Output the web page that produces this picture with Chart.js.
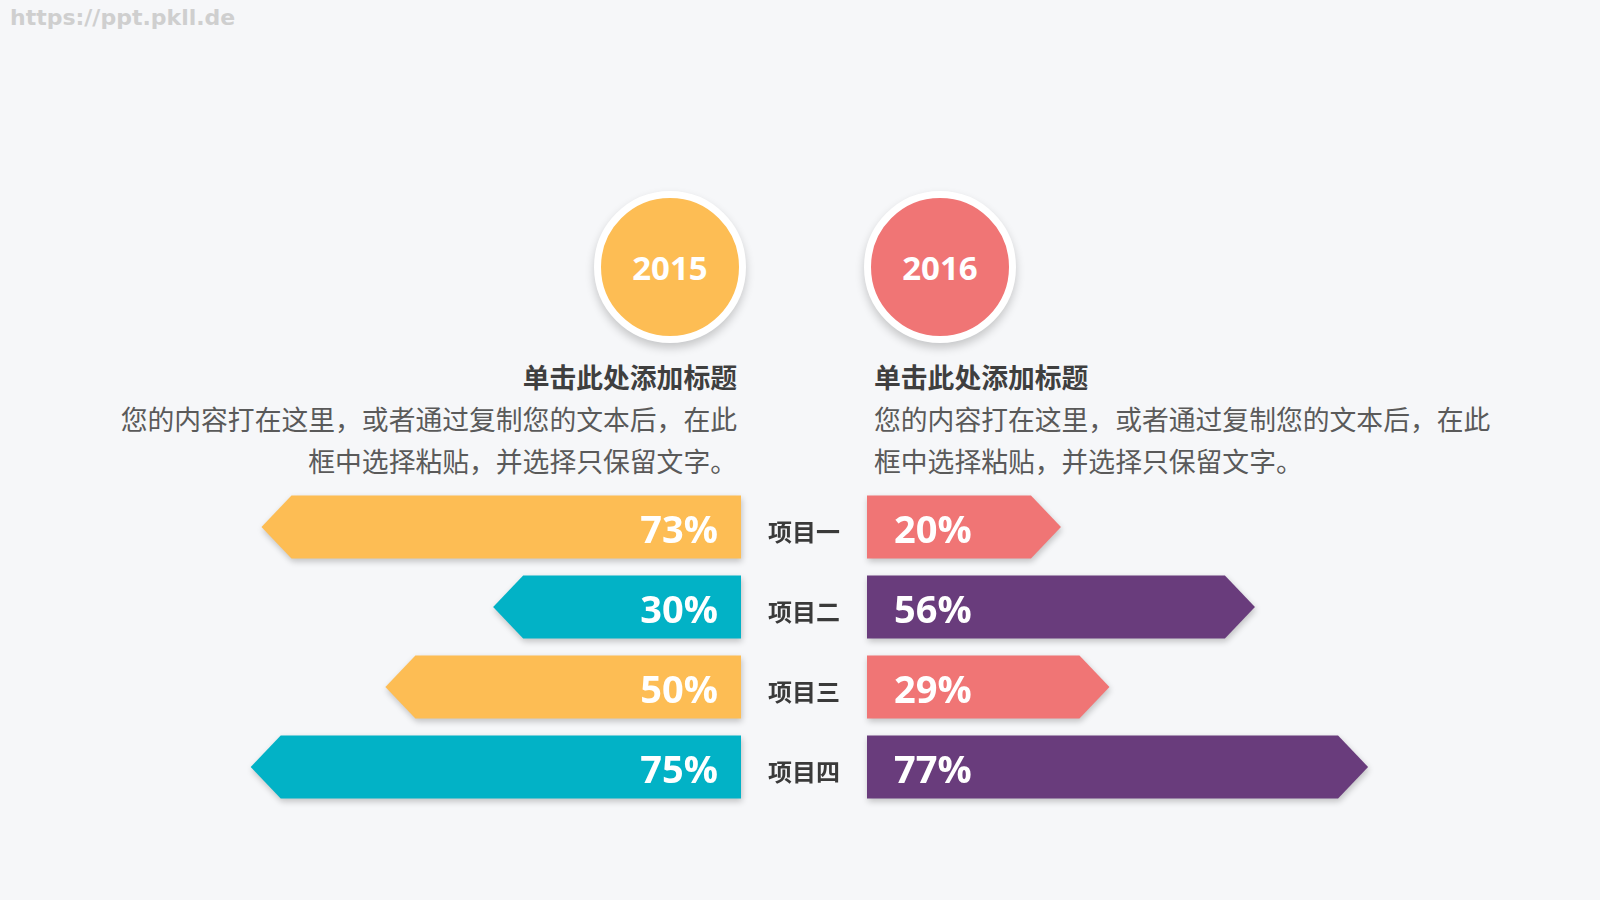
<!DOCTYPE html>
<html>
<head>
<meta charset="utf-8">
<script src="https://cdn.jsdelivr.net/npm/chart.js@4.4.1/dist/chart.umd.min.js"></script>
<style>
  html, body { margin: 0; padding: 0; }
  body {
    width: 1600px; height: 900px; position: relative; overflow: hidden;
    background: #f6f7f9;
    font-family: "Noto Sans CJK SC", "Noto Sans", sans-serif;
  }
  .mark { position: absolute; left: 10px; top: 5px; font: bold 22px "DejaVu Sans", sans-serif; color: #cfcfcf; }
  .year {
    position: absolute; width: 152px; height: 152px; box-sizing: border-box;
    border: 7px solid #fff; border-radius: 50%;
    box-shadow: 0 5px 10px rgba(0,0,0,0.2);
    color: #fff; font: bold 33px "Open Sans", sans-serif;
    display: flex; align-items: center; justify-content: center;
  }
  .txt { position: absolute; top: 356px; white-space: nowrap; line-height: 42px; }
  .txt b { display: block; font-size: 26.8px; color: #3f3f3f; }
  .txt span { display: block; font-size: 26.8px; color: #5a5a5a; }
  canvas { position: absolute; }
</style>
</head>
<body>
<div class="mark">https://ppt.pkll.de</div>

<div class="year" id="y0" style="left:594px;top:191px;background:#fdbd54"></div>
<div class="year" id="y1" style="left:864px;top:191px;background:#f07575"></div>

<div class="txt" style="right:863px;text-align:right">
  <b>单击此处添加标题</b>
  <span>您的内容打在这里，或者通过复制您的文本后，在此</span>
  <span>框中选择粘贴，并选择只保留文字。</span>
</div>
<div class="txt" style="left:874px;text-align:left">
  <b>单击此处添加标题</b>
  <span>您的内容打在这里，或者通过复制您的文本后，在此</span>
  <span>框中选择粘贴，并选择只保留文字。</span>
</div>

<canvas id="left" width="665" height="340" style="left:96px;top:477px"></canvas>
<canvas id="right" width="772" height="340" style="left:740px;top:477px"></canvas>

<script>
const years = ['2015', '2016'];
const categories = ['项目一', '项目二', '项目三', '项目四'];
const values2015 = [73, 30, 50, 75];
const values2016 = [20, 56, 29, 77];

const axisMin = -16;
const axisMax = 100;

document.getElementById('y0').textContent = years[0];
document.getElementById('y1').textContent = years[1];

// draws each bar as an arrow (pointing away from the middle) plus its % label
const arrowBars = {
    id: 'arrowBars',
    afterDatasetsDraw(chart, args, opts) {
        const ctx = chart.ctx;
        const ds = chart.data.datasets[0];
        const meta = chart.getDatasetMeta(0);
        meta.data.forEach((bar, i) => {
            const p = bar.getProps(['x', 'y', 'base', 'height'], true);
            const dir = p.x > p.base ? 1 : -1;
            const top = p.y - p.height / 2;
            const bot = p.y + p.height / 2;
            const neck = p.x - dir * opts.tip;

            ctx.save();
            ctx.shadowColor = 'rgba(0,0,0,0.22)';
            ctx.shadowBlur = 6;
            ctx.shadowOffsetX = 1;
            ctx.shadowOffsetY = 3;
            ctx.fillStyle = ds.arrowColors[i];
            ctx.beginPath();
            ctx.moveTo(p.base, top);
            ctx.lineTo(neck, top);
            ctx.lineTo(p.x, p.y);
            ctx.lineTo(neck, bot);
            ctx.lineTo(p.base, bot);
            ctx.closePath();
            ctx.fill();
            ctx.restore();

            ctx.save();
            ctx.fillStyle = '#fff';
            ctx.font = 'bold 38px "Open Sans", sans-serif';
            ctx.textBaseline = 'middle';
            ctx.textAlign = dir > 0 ? 'left' : 'right';
            ctx.fillText(ds.data[i] + '%', p.base + dir * opts.inset, p.y + 5);
            ctx.restore();

            if (opts.showCategories) {
                ctx.save();
                ctx.fillStyle = '#3a3a3a';
                ctx.font = 'bold 24px "Noto Sans CJK SC", sans-serif';
                ctx.textBaseline = 'middle';
                ctx.textAlign = 'center';
                ctx.fillText(chart.data.labels[i], chart.chartArea.left - 63, p.y + 5);
                ctx.restore();
            }
        });
    }
};

function makeChart(id, values, colors, reverse, padding, inset, showCategories) {
    const ctx = document.getElementById(id).getContext('2d');
    return new Chart(ctx, {
        type: 'bar',
        data: {
            labels: categories,
            datasets: [{
                data: values,
                base: axisMin,
                backgroundColor: 'rgba(0,0,0,0)',
                borderWidth: 0,
                arrowColors: colors,
                categoryPercentage: 1,
                barPercentage: 0.79
            }]
        },
        options: {
            indexAxis: 'y',
            responsive: false,
            animation: false,
            layout: { padding: padding },
            scales: {
                x: { type: 'linear', min: axisMin, max: axisMax, reverse: reverse, display: false },
                y: { type: 'category', display: false }
            },
            plugins: {
                legend: { display: false },
                tooltip: { enabled: false },
                arrowBars: { tip: 30, inset: inset, showCategories: showCategories }
            }
        },
        plugins: [arrowBars]
    });
}

makeChart('left', values2015, ['#fdbd54', '#02b2c6', '#fdbd54', '#02b2c6'], true,
    { left: 20, right: 20, top: 10, bottom: 10 }, 23, false);
makeChart('right', values2016, ['#f07575', '#693c7c', '#f07575', '#693c7c'], false,
    { left: 127, right: 20, top: 10, bottom: 10 }, 27, true);
</script>
</body>
</html>
